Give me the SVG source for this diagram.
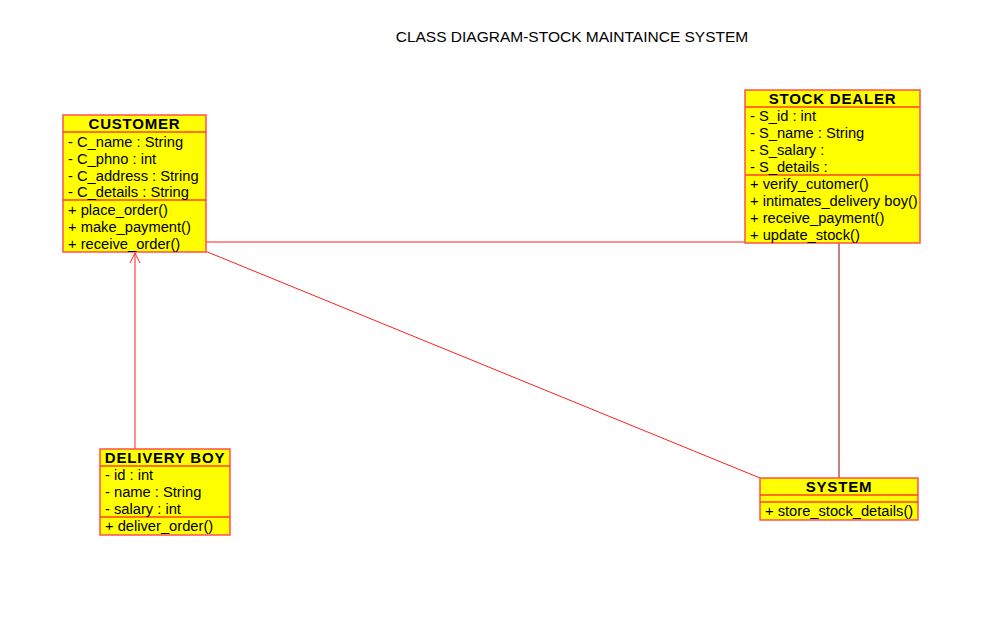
<svg xmlns="http://www.w3.org/2000/svg" width="999" height="619" viewBox="0 0 999 619">
<defs>
<style>
.box{fill:#ffff00;stroke:#ff5050;stroke-width:1.5}
.sep{stroke:#ff4020;stroke-width:1.5}
.t{font-family:"Liberation Sans",Arial,sans-serif;font-size:14.7px;fill:#000}
.h{font-family:"Liberation Sans",Arial,sans-serif;font-size:15px;font-weight:bold;fill:#000;text-anchor:middle;letter-spacing:0.8px}
.c{stroke:#ff2020;stroke-width:1;fill:none}
</style>
<marker id="open" markerWidth="12" markerHeight="12" refX="11" refY="6" orient="auto" markerUnits="userSpaceOnUse">
<path d="M1,1 L11,6 L1,11" fill="none" stroke="#ff2020" stroke-width="1"/>
</marker>
</defs>
<rect width="999" height="619" fill="#fff"/>
<text x="572" y="42" class="t" text-anchor="middle" style="font-size:15.5px">CLASS DIAGRAM-STOCK MAINTAINCE SYSTEM</text>
<g id="connectors">
<line class="c" x1="206" y1="242" x2="745" y2="242"/>
<line class="c" x1="205" y1="251" x2="760" y2="478"/>
<line stroke="#900000" stroke-width="1" x1="839" y1="243" x2="839" y2="478"/>
<line class="c" x1="135" y1="449" x2="135" y2="253" marker-end="url(#open)"/>
</g>
<g id="customer">
<rect class="box" x="63" y="115" width="143" height="137"/>
<line class="sep" x1="63" y1="132" x2="206" y2="132"/>
<line class="sep" x1="63" y1="200" x2="206" y2="200"/>
<text class="h" x="134.5" y="129">CUSTOMER</text>
<text class="t" x="68" y="147">- C_name : String</text>
<text class="t" x="68" y="164">- C_phno : int</text>
<text class="t" x="68" y="181">- C_address : String</text>
<text class="t" x="68" y="197">- C_details : String</text>
<text class="t" x="68" y="215">+ place_order()</text>
<text class="t" x="68" y="232">+ make_payment()</text>
<text class="t" x="68" y="249">+ receive_order()</text>
</g>
<g id="stockdealer">
<rect class="box" x="745" y="90" width="175" height="153"/>
<line class="sep" x1="745" y1="107" x2="920" y2="107"/>
<line class="sep" x1="745" y1="175" x2="920" y2="175"/>
<text class="h" x="832.5" y="104">STOCK DEALER</text>
<text class="t" x="750" y="121">- S_id : int</text>
<text class="t" x="750" y="138">- S_name : String</text>
<text class="t" x="750" y="155">- S_salary :</text>
<text class="t" x="750" y="172">- S_details :</text>
<text class="t" x="750" y="189">+ verify_cutomer()</text>
<text class="t" x="750" y="206">+ intimates_delivery boy()</text>
<text class="t" x="750" y="223">+ receive_payment()</text>
<text class="t" x="750" y="240">+ update_stock()</text>
</g>
<g id="deliveryboy">
<rect class="box" x="100" y="449" width="130" height="86"/>
<line class="sep" x1="100" y1="466" x2="230" y2="466"/>
<line class="sep" x1="100" y1="517" x2="230" y2="517"/>
<text class="h" x="165" y="463">DELIVERY BOY</text>
<text class="t" x="105" y="480">- id : int</text>
<text class="t" x="105" y="497">- name : String</text>
<text class="t" x="105" y="514">- salary : int</text>
<text class="t" x="105" y="531">+ deliver_order()</text>
</g>
<g id="system">
<rect class="box" x="760" y="478" width="158" height="42"/>
<line class="sep" x1="760" y1="495" x2="918" y2="495"/>
<line class="sep" x1="760" y1="502" x2="918" y2="502"/>
<text class="h" x="839" y="492">SYSTEM</text>
<text class="t" x="765" y="516">+ store_stock_details()</text>
</g>
</svg>
